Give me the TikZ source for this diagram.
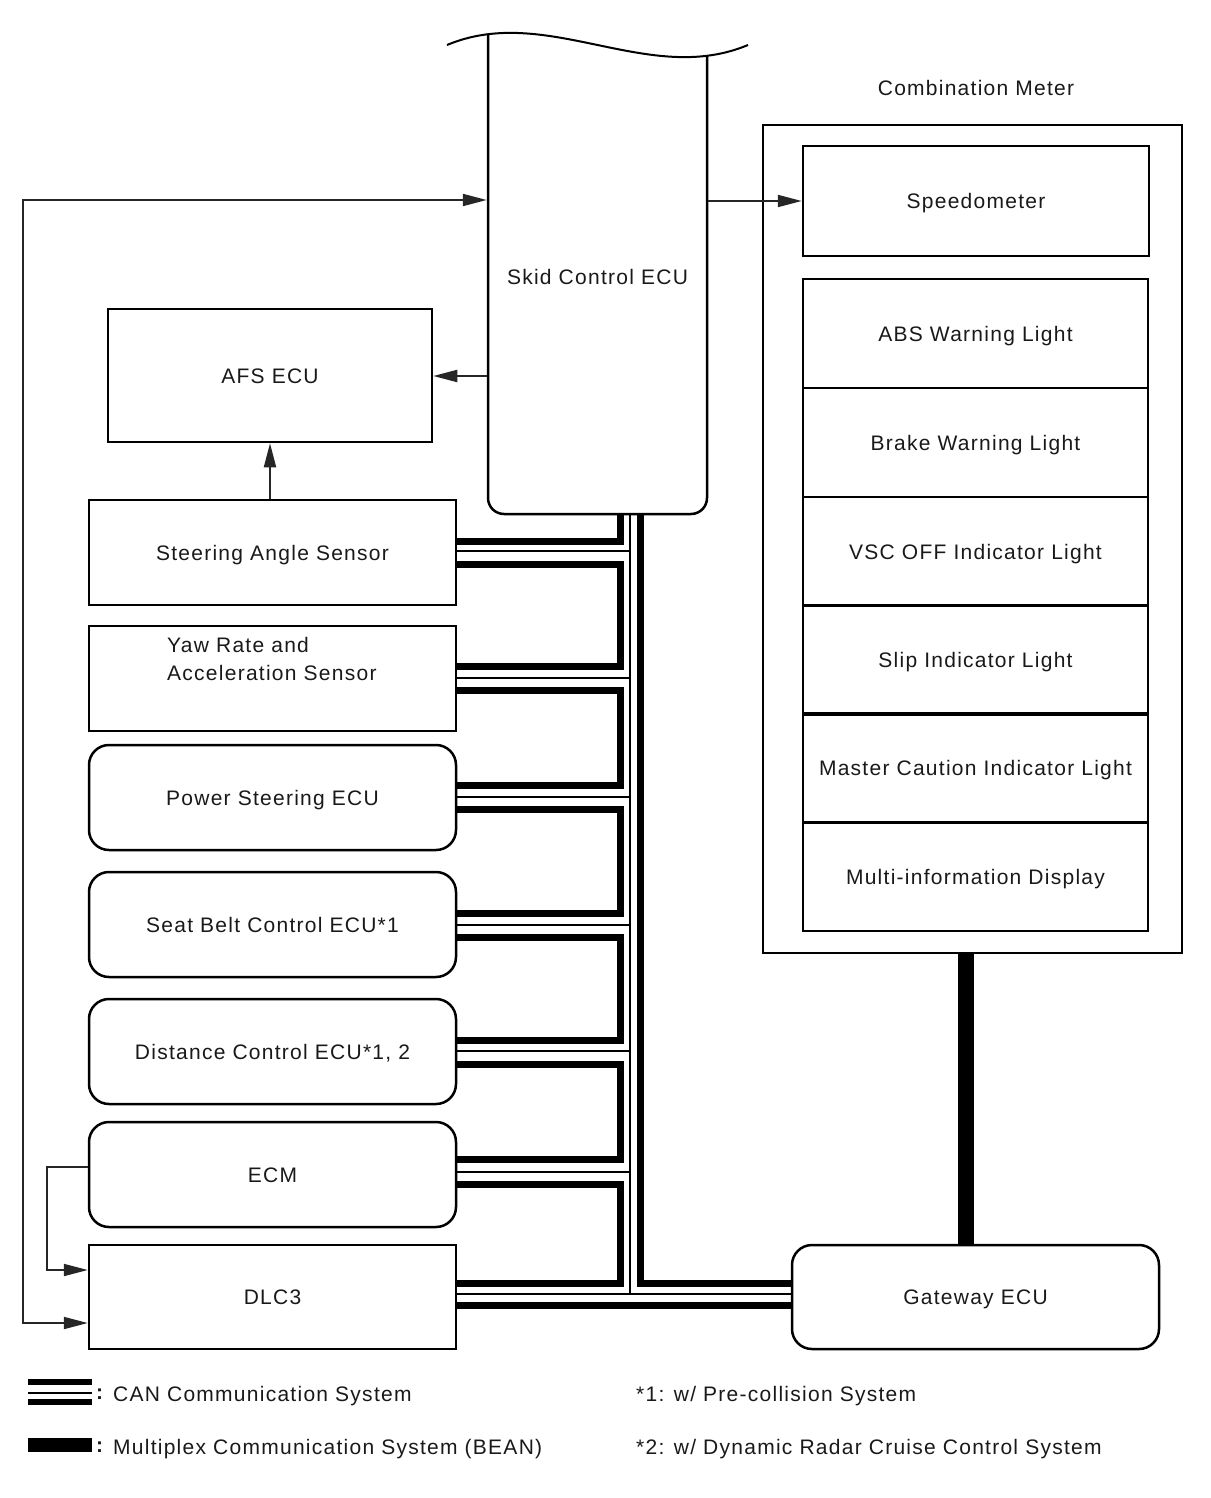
\documentclass[tikz,border=0pt]{standalone}
\usepackage{fontspec}
\setmainfont[LetterSpace=6]{Liberation Sans}
\usetikzlibrary{arrows.meta}
\begin{document}
\begin{tikzpicture}[x=1pt,y=-1pt,
  every node/.style={font=\fontsize{21}{28}\selectfont, text=black!90},
  one/.style={text height=15pt, text depth=0pt},
  box/.style={draw, one, line width=2.5pt, inner sep=0pt, minimum width=367pt, minimum height=105pt},
  rbox/.style={box, rounded corners=20pt},
  cell/.style={draw, one, line width=2.5pt, inner sep=0pt, minimum width=345pt, minimum height=108.7pt},
  conn/.style={line width=2pt, draw=black!85},
  tip/.style={-{Triangle[length=24pt,width=12pt]}},
  canthick/.style={line width=7pt},
  canthin/.style={line width=2pt},
  lbl/.style={anchor=west, inner sep=0pt, one}]
\useasboundingbox (0,0) rectangle (1210,1498);

% Skid Control ECU
\node[inner sep=0pt, outer sep=1.25pt, minimum width=219pt, minimum height=486pt, one] (skid) at (597.5,277) {Skid Control ECU};
\draw[line width=2.5pt, rounded corners=16pt] (488,34) -- (488,514) -- (707,514) -- (707,56);
\draw[line width=2pt] (447,45) .. controls (547,3) and (648,87) .. (748,45);

% AFS
\node[box, minimum width=324pt, minimum height=133pt] (afs) at (270,375.5) {AFS ECU};

% left boxes
\node[box] (sas) at (272.5,552.5) {Steering Angle Sensor};
\node[box] (yaw) at (272.5,678.5) {};
\node[anchor=west, inner sep=0pt, align=left] (yawtxt) at (167,659) {Yaw Rate and\\Acceleration Sensor};
\node[rbox] (pse) at (272.5,797.5) {Power Steering ECU};
\node[rbox] (sbc) at (272.5,924.5) {Seat Belt Control ECU*1};
\node[rbox] (dce) at (272.5,1051.5) {Distance Control ECU*1, 2};
\node[rbox] (ecm) at (272.5,1174.5) {ECM};
\node[box, minimum height=104pt] (dlc) at (272.5,1297) {DLC3};
\node[rbox, minimum height=104pt] (gw) at (975.5,1297) {Gateway ECU};

% Combination meter
\node[one] (cmlbl) at (976,88) {Combination Meter};
\node[draw, line width=2.5pt, inner sep=0pt, minimum width=419pt, minimum height=828pt] (combo) at (972.5,539) {};
\node[draw, one, line width=2.5pt, inner sep=0pt, minimum width=346pt, minimum height=110pt] (speedo) at (976,201) {Speedometer};
\node[cell] (abs) at (975.5,333.5) {ABS Warning Light};
\node[cell] (brake) at (975.5,442.5) {Brake Warning Light};
\node[cell] (vsc) at (975.5,551.5) {VSC OFF Indicator Light};
\node[cell] (slip) at (975.5,660) {Slip Indicator Light};
\node[cell] (mc) at (975.5,768) {Master Caution Indicator Light};
\node[cell] (mid) at (975.5,876.5) {Multi-information Display};

% plain connectors
\draw[conn, tip] (skid.east |- 0,201) -- (speedo.west);
\draw[conn, tip] (skid.west |- 0,376) -- (afs.east |- 0,376);
\draw[conn, tip] (sas.north -| 270,0) -- (afs.south -| 270,0);
\draw[conn, {Triangle[length=24pt,width=12pt]}-{Triangle[length=24pt,width=12pt]}] (skid.west |- 0,200) -| (23,1323) -- (dlc.west |- 0,1323);
\draw[conn, tip] (ecm.west |- 0,1167) -| (47,1270) -- (dlc.west |- 0,1270);

% CAN bus: thick chain
\draw[canthick] (620,514) -- (620,541) -- (sas.east |- 0,541);
\draw[canthick] (sas.east |- 0,564) -- (620,564) -- (620,666) -- (yaw.east |- 0,666);
\draw[canthick] (yaw.east |- 0,690) -- (620,690) -- (620,785.5) -- (pse.east |- 0,785.5);
\draw[canthick] (pse.east |- 0,809.5) -- (620,809.5) -- (620,913) -- (sbc.east |- 0,913);
\draw[canthick] (sbc.east |- 0,937) -- (620,937) -- (620,1040) -- (dce.east |- 0,1040);
\draw[canthick] (dce.east |- 0,1064) -- (620,1064) -- (620,1159) -- (ecm.east |- 0,1159);
\draw[canthick] (ecm.east |- 0,1184) -- (620,1184) -- (620,1283) -- (dlc.east |- 0,1283);
% outer thick
\draw[canthick] (640,514) -- (640,1283) -- (gw.west |- 0,1283);
\draw[canthick] (dlc.east |- 0,1305) -- (gw.west |- 0,1305);
% thin
\draw[canthin] (630,514) -- (630,1294);
\draw[canthin] (sas.east |- 0,551) -- (630,551);
\draw[canthin] (yaw.east |- 0,678) -- (630,678);
\draw[canthin] (pse.east |- 0,797) -- (630,797);
\draw[canthin] (sbc.east |- 0,925) -- (630,925);
\draw[canthin] (dce.east |- 0,1051) -- (630,1051);
\draw[canthin] (ecm.east |- 0,1172) -- (630,1172);
\draw[canthin] (dlc.east |- 0,1294) -- (gw.west |- 0,1294);

% Multiplex (BEAN)
\draw[line width=16pt] (gw.north -| 966,0) -- (combo.south -| 966,0);

% Legend
\draw[line width=6pt] (28,1382) -- (92,1382);
\draw[line width=2pt] (28,1393) -- (92,1393);
\draw[line width=6pt] (28,1402) -- (92,1402);
\fill (28,1438) rectangle (92,1452);
\node[lbl] (c1) at (96,1392) {\textbf{:}};
\node[lbl] (c2) at (96,1445) {\textbf{:}};
\node[lbl] (l1) at (113,1394) {CAN Communication System};
\node[lbl] (l2) at (113,1447) {Multiplex Communication System (BEAN)};
\node[lbl] (n1) at (636,1394) {*1: w/ Pre-collision System};
\node[lbl] (n2) at (636,1447) {*2: w/ Dynamic Radar Cruise Control System};
\end{tikzpicture}
\end{document}
